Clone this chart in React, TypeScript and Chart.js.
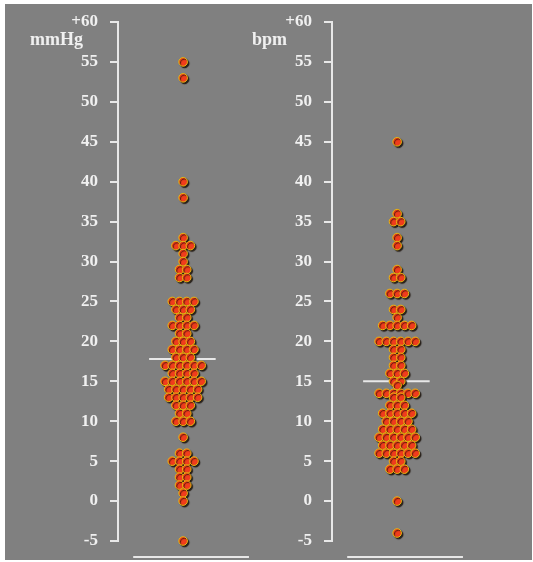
import React, { useEffect, useRef } from "react";
import { Chart, registerables } from "chart.js";

Chart.register(...registerables);

// ---- data ----
const yTickMin = -5;
const yTickMax = 60;
const yTickStep = 5;

const pressureUnit = "mmHg";
const pressureValues = [
  55, 53, 40, 38, 33, 32, 32, 32, 31, 30, 29, 29, 28, 28,
  25, 25, 25, 25, 24, 24, 24, 23, 23, 22, 22, 22, 22, 21, 21,
  20, 20, 20, 19, 19, 19, 19, 18, 18, 18,
  17, 17, 17, 17, 17, 17, 16, 16, 16, 16,
  15, 15, 15, 15, 15, 15, 14, 14, 14, 14, 14,
  13, 13, 13, 13, 13, 12, 12, 12, 11, 11, 10, 10, 10,
  8, 6, 6, 5, 5, 5, 5, 4, 4, 3, 3, 2, 2, 1, 0, -5,
];
const pressureMean = 17.8;

const heartRateUnit = "bpm";
const heartRateValues = [
  45, 36, 35, 35, 33, 32, 29, 28, 28, 26, 26, 26, 24, 24, 23,
  22, 22, 22, 22, 22, 20, 20, 20, 20, 20, 20, 19, 19, 18, 18, 17, 17,
  16, 16, 16, 15, 15, 14.5, 13.5, 13.5, 13.5, 13.5, 13.5, 13.5, 13, 13,
  12, 12, 12, 11, 11, 11, 11, 11, 10, 10, 10, 10,
  9, 9, 9, 9, 9, 8, 8, 8, 8, 8, 8, 7, 7, 7, 7, 7,
  6, 6, 6, 6, 6, 6, 5, 5, 4, 4, 4, 0, -4,
];
const heartRateMean = 15;

// ---- layout / style constants ----
const GRAY = "#808080";
const WHITE = "#e8e8e8";
const LABEL_FONT = '"Liberation Serif", "Times New Roman", serif';

function swarm(values: number[]) {
  const counts = new Map<number, number>();
  values.forEach((v) => counts.set(v, (counts.get(v) || 0) + 1));
  const pts: { x: number; y: number }[] = [];
  counts.forEach((n, v) => {
    for (let i = 0; i < n; i++) pts.push({ x: i - (n - 1) / 2, y: v });
  });
  return pts;
}

const shadowPlugin = {
  id: "dotShadow",
  beforeDatasetDraw(chart: any, args: any) {
    if (args.index === 0) {
      const c = chart.ctx;
      c.save();
      c.shadowColor = "rgba(20,10,0,0.8)";
      c.shadowOffsetX = 1.5;
      c.shadowOffsetY = 1.5;
      c.shadowBlur = 1;
    }
  },
  afterDatasetDraw(chart: any, args: any) {
    if (args.index === 0) chart.ctx.restore();
  },
};

function Panel(props: {
  values: number[];
  mean: number;
  axisWidth: number;
  left: number;
}) {
  const ref = useRef<HTMLCanvasElement>(null);
  useEffect(() => {
    const chart = new Chart(ref.current as HTMLCanvasElement, {
      type: "scatter",
      data: {
        datasets: [
          {
            type: "scatter",
            data: swarm(props.values),
            backgroundColor: "#f03c1c",
            borderColor: "#e6b810",
            borderWidth: 1,
            pointRadius: 4.3,
            clip: false,
            order: 1,
          } as any,
          {
            type: "line",
            data: [
              { x: -4.7, y: props.mean },
              { x: 4.5, y: props.mean },
            ],
            borderColor: WHITE,
            borderWidth: 2,
            pointRadius: 0,
            order: 2,
          } as any,
          {
            type: "line",
            data: [
              { x: -6.9, y: -7 },
              { x: 9.1, y: -7 },
            ],
            borderColor: WHITE,
            borderWidth: 2,
            pointRadius: 0,
            clip: false,
            order: 3,
          } as any,
        ],
      },
      options: {
        animation: false,
        responsive: false,
        events: [],
        layout: { padding: { top: 18, bottom: 19, left: 0, right: 0 } },
        plugins: { legend: { display: false }, tooltip: { enabled: false } },
        scales: {
          x: { type: "linear", min: -9, max: 11, display: false },
          y: {
            type: "linear",
            min: yTickMin,
            max: yTickMax,
            afterFit: (s: any) => {
              s.width = props.axisWidth;
              s.paddingTop = 0;
              s.paddingBottom = 0;
            },
            ticks: {
              stepSize: yTickStep,
              color: "#f0f0f0",
              padding: 12,
              font: { family: LABEL_FONT, size: 17, weight: "bold" },
              callback: (v: any) => (v === yTickMax ? "+" + v : String(v)),
            },
            grid: {
              drawOnChartArea: false,
              drawTicks: true,
              tickLength: 8,
              color: WHITE,
              lineWidth: 2,
            },
            border: { display: true, color: WHITE, width: 2 },
          },
        },
      } as any,
      plugins: [shadowPlugin],
    });
    return () => chart.destroy();
  }, []);
  return (
    <canvas
      ref={ref}
      width={props.axisWidth + 150}
      height={556}
      style={{ position: "absolute", left: props.left, top: 0, display: "block" }}
    />
  );
}

const unitStyle: React.CSSProperties = {
  position: "absolute",
  top: 27,
  fontFamily: LABEL_FONT,
  fontWeight: "bold",
  fontSize: 18,
  lineHeight: "16px",
  color: "#f0f0f0",
  whiteSpace: "nowrap",
};

export default function App() {
  return (
    <div
      style={{
        position: "absolute",
        left: 5,
        top: 4,
        width: 527,
        height: 556,
        background: GRAY,
        overflow: "hidden",
      }}
    >
      <Panel values={pressureValues} mean={pressureMean} axisWidth={113} left={0} />
      <Panel values={heartRateValues} mean={heartRateMean} axisWidth={64} left={263} />
      <div style={{ ...unitStyle, left: 25 }}>{pressureUnit}</div>
      <div style={{ ...unitStyle, left: 247 }}>{heartRateUnit}</div>
    </div>
  );
}
